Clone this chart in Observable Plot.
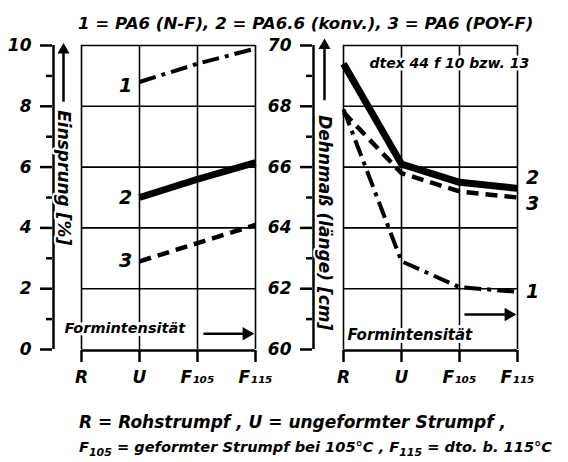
<!DOCTYPE html>
<html><head><meta charset="utf-8">
<script src="https://cdn.jsdelivr.net/npm/d3@7"></script>
<script src="https://cdn.jsdelivr.net/npm/@observablehq/plot@0.6"></script>
<style>
body{margin:0;background:#fff;}
#wrap{position:relative;width:568px;height:462px;overflow:hidden;font-family:"DejaVu Sans",sans-serif;font-style:italic;font-weight:bold;color:#000;}
#title{position:absolute;left:78px;top:14px;font-size:16.6px;white-space:nowrap;}
#left{position:absolute;left:0;top:35px;}
#right{position:absolute;left:265px;top:35px;}
.cap{position:absolute;left:79px;white-space:nowrap;}
.cap sub{font-size:75%;line-height:0;}
</style></head>
<body><div id="wrap">
<div id="title">1 = PA6 (N-F), 2 = PA6.6 (konv.), 3 = PA6 (POY-F)</div>
<div id="left"></div><div id="right"></div>
<div class="cap" style="top:412px;font-size:17px">R = Rohstrumpf , U = ungeformter Strumpf ,</div>
<div class="cap" style="top:438px;font-size:14.6px">F<sub>105</sub> = geformter Strumpf bei 105°C , F<sub>115</sub> = dto. b. 115°C</div>
</div>
<script>
const categories = ["R", "U", "F₁₀₅", "F₁₁₅"];
const seriesNames = ["1", "2", "3"];
const einsprungTicks = [0, 2, 4, 6, 8, 10];
const einsprungMinor = [1, 3, 5, 7, 9];
const einsprungGrid = [2, 4, 6, 8, 10];
const dehnmassTicks = [60, 62, 64, 66, 68, 70];
const dehnmassMinor = [61, 63, 65, 67, 69];
const dehnmassGrid = [62, 64, 66, 68, 70];
const einsprung1 = [null, 8.8, 9.4, 9.9];
const einsprung2 = [null, 5.0, 5.6, 6.15];
const einsprung3 = [null, 2.9, 3.5, 4.1];
const dehnmass1 = [67.9, 62.9, 62.05, 61.9];
const dehnmass2 = [69.4, 66.1, 65.5, 65.3];
const dehnmass3 = [67.8, 65.8, 65.2, 65.0];
const leftLabel = "Einsprung [%]";
const rightLabel = "Dehnmaß (länge) [cm]";
const xNote = "Formintensität";
const yarnNote = "dtex 44 f 10 bzw. 13";

const lineStyle = {
  "1": {strokeWidth: 4, strokeDasharray: "17,6,4,6"},
  "2": {strokeWidth: 7, strokeDasharray: null},
  "3": {strokeWidth: 4.5, strokeDasharray: "12,7"}
};
const first = categories[0], last = categories[categories.length - 1], third = categories[2];
const K = v => () => v;

function rows(values, s) {
  return categories.map((c, i) => ({cat: c, v: values[i], s})).filter(d => d.v != null);
}
const font = {fontFamily: "DejaVu Sans, sans-serif", fontStyle: "italic", fontWeight: "bold", fontSize: "16px", overflow: "visible", background: "transparent"};
const halo = w => ({fill: "black", stroke: "white", strokeWidth: w, paintOrder: "stroke"});

function panel(o) {
  const [y0, y1] = o.domain;
  const lines = o.series.map((vals, i) => {
    const s = seriesNames[i];
    return Plot.line(rows(vals, s), {x: "cat", y: "v", stroke: "black", strokeLinejoin: "round", strokeLinecap: "butt", ...lineStyle[s]});
  });
  const labels = o.labelRows.map(r => Plot.text([r], {x: "cat", y: "v", text: "s", dx: o.labelDx, dy: r.dy, fontSize: 19}));
  return Plot.plot({
    width: o.width, height: 360,
    marginLeft: o.marginLeft, marginRight: o.marginRight, marginTop: 10, marginBottom: 45,
    x: {type: "point", domain: categories, padding: 0, insetLeft: o.inset, label: null},
    y: {domain: o.domain, insetBottom: 1, label: null},
    style: font,
    marks: [
      Plot.ruleX(categories, {y1: y0, y2: y1, strokeWidth: 1.6}),
      Plot.ruleY(o.grid, {x1: K(first), x2: K(last), strokeWidth: 1.6}),
      Plot.ruleX([first], {y1: y0, y2: y1, dx: -o.inset, strokeWidth: 2.5}),
      Plot.ruleY([y0], {x1: K(first), x2: K(last), dy: 1, strokeWidth: 2.5}),
      Plot.axisY(o.ticks, {anchor: "left", tickSize: 12, tickPadding: 9, strokeWidth: 2.5, fontSize: 17}),
      Plot.axisY(o.minor, {anchor: "left", tickSize: 6, strokeWidth: 2.5, fill: "none"}),
      Plot.axisX({anchor: "bottom", tickSize: 12, tickPadding: 8, strokeWidth: 2.5, fontSize: 17}),
      ...o.extra,
      ...lines,
      ...labels,
      Plot.text([o.yLabel], {x: K(first), y: K(o.yLabelPos), text: d => d, rotate: 90, dx: o.arrowDx, fontSize: o.yLabelSize, ...halo(4)}),
      Plot.link([o.arrowY], {x1: K(first), x2: K(first), y1: d => d[0], y2: d => d[1], dx: o.arrowDx, strokeWidth: 2.5}),
      Plot.dot([o.arrowY], {x: K(first), y: d => d[1], dx: o.arrowDx, symbol: "triangle", r: 4.5, fill: "black", stroke: "none"})
    ]
  });
}

function noteArrow(yv, insetStart) {
  return [
    Plot.arrow([[third, last, yv]], {x1: d => d[0], x2: d => d[1], y1: d => d[2], y2: d => d[2], insetStart, insetEnd: 4, headLength: 0, strokeWidth: 2.5}),
    Plot.dot([[last, yv]], {x: d => d[0], y: d => d[1], dx: -9, symbol: "triangle", rotate: 90, r: 5, fill: "black", stroke: "none"})
  ];
}

// left panel
const leftNotes = [
  Plot.text([xNote], {x: K(first), y: K(0.7), text: d => d, dx: -17, textAnchor: "start", fontSize: 14.5, ...halo(6)}),
  ...noteArrow(0.52, 7)
];
const leftLabelRows = [
  {cat: "U", v: einsprung1[1], s: "1", dy: 4},
  {cat: "U", v: einsprung2[1], s: "2", dy: 0},
  {cat: "U", v: einsprung3[1], s: "3", dy: 0}
];
document.getElementById("left").append(panel({
  width: 265, marginLeft: 52, marginRight: 10, inset: 28,
  domain: [0, 10], ticks: einsprungTicks, minor: einsprungMinor, grid: einsprungGrid,
  series: [einsprung1, einsprung2, einsprung3],
  labelRows: leftLabelRows, labelDx: -14,
  yLabel: leftLabel, yLabelPos: 5.65, yLabelSize: 17, arrowDx: -18, arrowY: [8.15, 9.85],
  extra: leftNotes
}));

// right panel
const rightNotes = [
  Plot.text([xNote], {x: K(first), y: K(60.47), text: d => d, dx: 4, textAnchor: "start", fontSize: 15, ...halo(6)}),
  ...noteArrow(61.15, 6),
  Plot.text([yarnNote], {x: K(first), y: K(69.4), text: d => d, dx: 26, textAnchor: "start", fontSize: 14, ...halo(5)})
];
const rightLabelRows = [
  {cat: last, v: dehnmass1[3], s: "1", dy: 0},
  {cat: last, v: dehnmass2[3], s: "2", dy: -10},
  {cat: last, v: dehnmass3[3], s: "3", dy: 6}
];
document.getElementById("right").append(panel({
  width: 303, marginLeft: 47, marginRight: 50, inset: 30,
  domain: [60, 70], ticks: dehnmassTicks, minor: dehnmassMinor, grid: dehnmassGrid,
  series: [dehnmass1, dehnmass2, dehnmass3],
  labelRows: rightLabelRows, labelDx: 15,
  yLabel: rightLabel, yLabelPos: 64.17, yLabelSize: 17, arrowDx: -19, arrowY: [68.2, 70.0],
  extra: rightNotes
}));
</script>
</body></html>
